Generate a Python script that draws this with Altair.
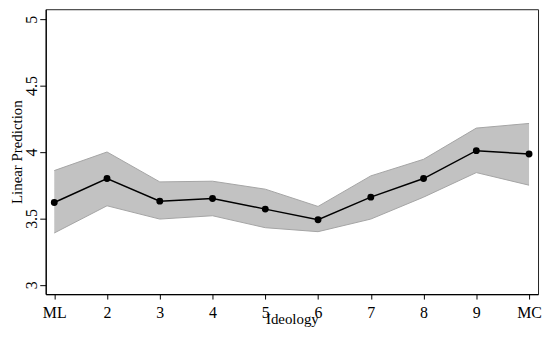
import altair as alt
import pandas as pd

categories = ["ML", "2", "3", "4", "5", "6", "7", "8", "9", "MC"]
positions = [1, 2, 3, 4, 5, 6, 7, 8, 9, 10]
prediction = [3.62, 3.80, 3.63, 3.65, 3.57, 3.49, 3.66, 3.80, 4.01, 3.985]
upper = [3.86, 4.00, 3.775, 3.78, 3.72, 3.59, 3.82, 3.945, 4.18, 4.215]
lower = [3.39, 3.595, 3.495, 3.52, 3.43, 3.40, 3.495, 3.66, 3.845, 3.75]
y_ticks = [3, 3.5, 4, 4.5, 5]

df = pd.DataFrame({
    "pos": positions,
    "cat": categories,
    "pred": prediction,
    "upper": upper,
    "lower": lower,
})

FONT = "Liberation Serif"

x = alt.X(
    "pos:Q",
    scale=alt.Scale(domain=[0.838, 10.17], nice=False, zero=False),
    axis=alt.Axis(
        title="Ideology",
        values=positions,
        labelExpr="datum.value == 1 ? 'ML' : datum.value == 10 ? 'MC' : datum.label",
        grid=False,
        tickSize=5,
        labelPadding=19,
        labelBaseline="alphabetic",
        titleY=30,
        titleBaseline="alphabetic",
    ),
)

yscale = alt.Scale(domain=[2.93, 5.075], nice=False, zero=False)
yaxis = alt.Axis(
    title="Linear Prediction",
    values=y_ticks,
    format="~g",
    grid=False,
    tickSize=6,
    labelAngle=270,
    labelAlign="center",
    labelBaseline="alphabetic",
    labelPadding=3,
    titleX=-24,
    titleBaseline="alphabetic",
)

base = alt.Chart(df)

band = base.mark_area(color="#c2c2c2", opacity=1).encode(
    x=x,
    y=alt.Y("lower:Q", scale=yscale, axis=yaxis),
    y2="upper:Q",
)

edge_hi = base.mark_line(color="#a4a4a4", strokeWidth=1).encode(
    x="pos:Q", y=alt.Y("upper:Q", scale=yscale)
)
edge_lo = base.mark_line(color="#a4a4a4", strokeWidth=1).encode(
    x="pos:Q", y=alt.Y("lower:Q", scale=yscale)
)

line = base.mark_line(color="black", strokeWidth=1.5).encode(
    x="pos:Q", y=alt.Y("pred:Q", scale=yscale)
)
pts = base.mark_point(filled=True, color="black", size=48, opacity=1).encode(
    x="pos:Q", y=alt.Y("pred:Q", scale=yscale)
)

chart = (
    alt.layer(band, edge_hi, edge_lo, line, pts)
    .properties(
        width=496,
        height=287,
        autosize=alt.AutoSizeParams(type="none"),
        padding={"left": 38, "top": 0, "right": 4, "bottom": 45},
    )
    .configure_view(stroke="#222222", strokeWidth=1)
    .configure_axis(
        labelFont=FONT,
        labelFontSize=16,
        labelColor="black",
        titleFont=FONT,
        titleFontSize=15,
        titleFontWeight="normal",
        titleColor="black",
        domainColor="black",
        domainWidth=1.2,
        tickColor="black",
        tickWidth=1,
    )
)

chart.save("out.html", embed_options={"renderer": "svg", "actions": False})
